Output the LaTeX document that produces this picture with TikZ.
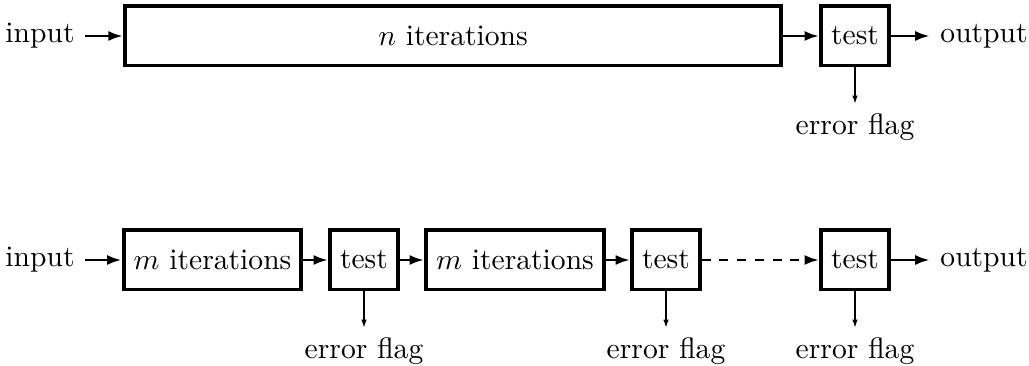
\documentclass[tikz,border=0pt]{standalone}
\usetikzlibrary{arrows.meta}
\tikzset{x=0.338pt, y=-0.338pt,
    blk/.style={draw, line width=1.3pt, minimum height=2em},
    flow/.style={-{Latex[length=5pt,width=3.4pt]}, line width=1pt},
    flag/.style={-{Latex[length=2.7pt,width=1.9pt]}, line width=0.4pt},
    }
\begin{document}
\begin{tikzpicture}
	\useasboundingbox (0,0) rectangle (1029,366);
	% one long run
	\node[anchor=east] (in1) at (85,36) {input};
	\node[blk, minimum width=221.7pt] (iter) at (453,36) {$n$ iterations};
	\node[blk] (t1) at (855,36) {test};
	\node[anchor=west] (out1) at (930,36) {output};
	\node (f1) at (855,127.5) {error flag};
	\draw[flow] (in1) -- (iter);
	\draw[flow] (iter) -- (t1);
	\draw[flow] (t1) -- (out1);
	\draw[flag] (t1) -- (f1);
	% split runs
	\node[anchor=east] (in2) at (85,260) {input};
	\node[blk] (m1) at (212.5,260) {$m$ iterations};
	\node[blk] (t2) at (364,260) {test};
	\node[blk] (m2) at (515,260) {$m$ iterations};
	\node[blk] (t3) at (666,260) {test};
	\node[blk] (t4) at (855,260) {test};
	\node[anchor=west] (out2) at (930,260) {output};
	\node (f2) at (364,351.5) {error flag};
	\node (f3) at (666,351.5) {error flag};
	\node (f4) at (855,351.5) {error flag};
	\draw[flow] (in2) -- (m1);
	\draw[flow] (m1) -- (t2);
	\draw[flow] (t2) -- (m2);
	\draw[flow] (m2) -- (t3);
	\draw[flow, dashed] (t3) -- (t4);
	\draw[flow] (t4) -- (out2);
	\foreach \t/\f in {t2/f2, t3/f3, t4/f4}
		\draw[flag] (\t) -- (\f);
\end{tikzpicture}
\end{document}
